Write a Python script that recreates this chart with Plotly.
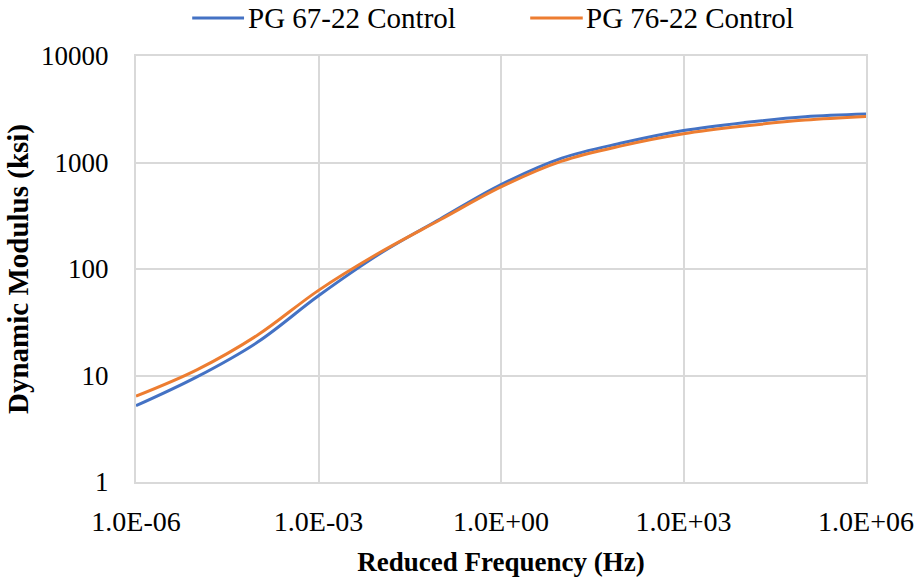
import plotly.graph_objects as go

# Reduced frequency (Hz), one point per decade
freq = [1e-6, 1e-5, 1e-4, 1e-3, 1e-2, 1e-1, 1e0, 1e1, 1e2, 1e3, 1e4, 1e5, 1e6]

# Dynamic modulus master curves (ksi)
pg6722 = [5.2, 9.7, 20.6, 56, 138, 295, 620, 1100, 1530, 1995, 2370, 2690, 2850]
pg7622 = [6.4, 11.3, 24, 63, 142, 290, 590, 1030, 1440, 1860, 2200, 2500, 2700]

series_names = ["PG 67-22 Control", "PG 76-22 Control"]
series_colors = ["#4472C4", "#ED7D31"]

x_tickvals = [1e-6, 1e-3, 1e0, 1e3, 1e6]
x_ticktext = ["1.0E-06", "1.0E-03", "1.0E+00", "1.0E+03", "1.0E+06"]
y_tickvals = [1, 10, 100, 1000, 10000]
y_ticktext = ["1", "10", "100", "1000", "10000"]

FONT = "Liberation Serif, Times New Roman, serif"
GRID = "#d9d9d9"

fig = go.Figure()
for name, color, vals in zip(series_names, series_colors, [pg6722, pg7622]):
    fig.add_trace(go.Scatter(x=freq, y=vals, mode="lines", name=name, showlegend=False,
                             line=dict(color=color, width=3, shape="spline", smoothing=1.0)))

# Legend row above the plot: a colour swatch followed by the series name
legend_y = 1.089
legend_slots = [(0.077, 0.148), (0.540, 0.612)]
for (x0, x1), name, color in zip(legend_slots, series_names, series_colors):
    fig.add_shape(type="line", xref="paper", yref="paper", x0=x0, x1=x1,
                  y0=legend_y, y1=legend_y, line=dict(color=color, width=3))
    fig.add_annotation(xref="paper", yref="paper", x=x1 + 0.002, y=legend_y,
                       xanchor="left", yanchor="middle", text=name, showarrow=False,
                       font=dict(family=FONT, size=29, color="black"))

fig.update_layout(
    width=918, height=577,
    margin=dict(l=136, r=52, t=56, b=95, autoexpand=False),
    paper_bgcolor="white", plot_bgcolor="white",
    font=dict(family=FONT, size=27, color="black"),
    showlegend=False,
    xaxis=dict(type="log", range=[-6, 6], tickvals=x_tickvals, ticktext=x_ticktext,
               automargin=False,
               showgrid=True, gridcolor=GRID, gridwidth=2,
               showline=True, linecolor=GRID, linewidth=2, mirror=True,
               ticks="", tickfont=dict(size=28), ticklabelstandoff=13,
               title=dict(text="<b>Reduced Frequency (Hz)</b>", font=dict(size=27), standoff=17),
               zeroline=False),
    yaxis=dict(type="log", range=[0, 4], tickvals=y_tickvals, ticktext=y_ticktext,
               automargin=False,
               showgrid=True, gridcolor=GRID, gridwidth=2,
               showline=True, linecolor=GRID, linewidth=2, mirror=True,
               ticks="", tickfont=dict(size=27), ticklabelstandoff=20,
               title=dict(text="<b>Dynamic Modulus (ksi)</b>", font=dict(size=29), standoff=4),
               zeroline=False),
)

fig.write_html("out.html")
